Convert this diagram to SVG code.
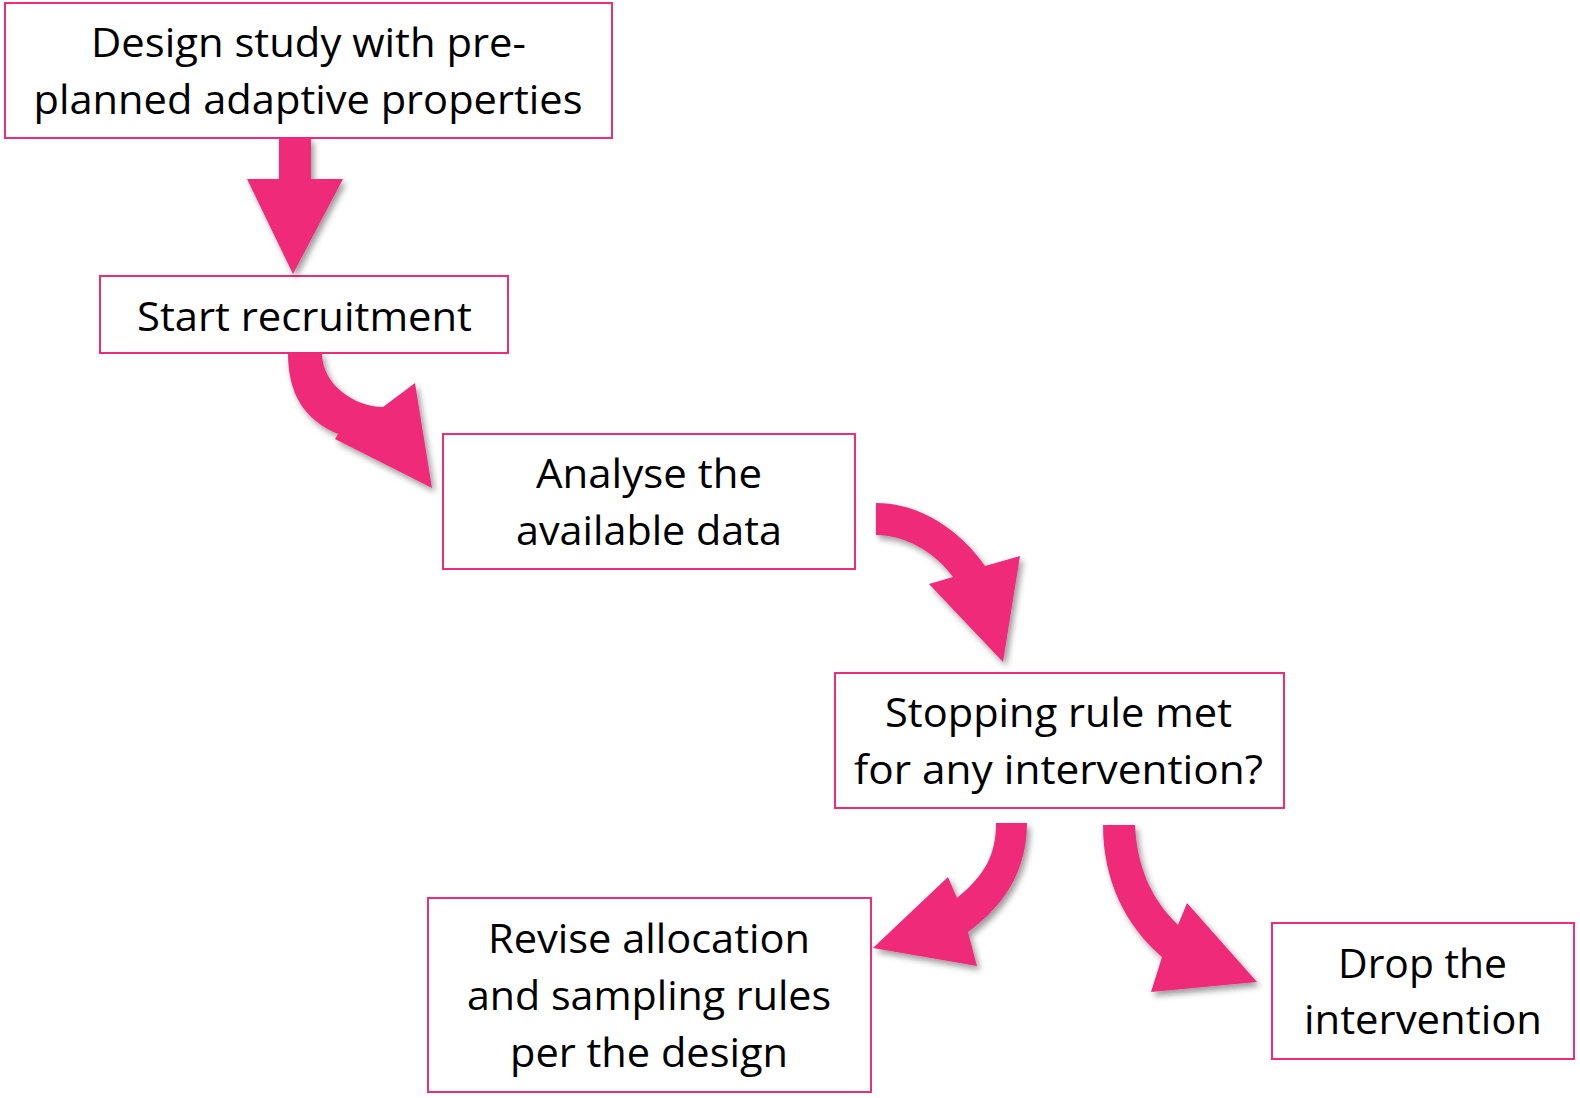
<svg xmlns="http://www.w3.org/2000/svg" width="1580" height="1098" viewBox="0 0 1580 1098">
<style>
.box{fill:#fff;stroke:#EE2C78;stroke-width:2}
.t{font-family:"Open Sans","Noto Sans","Liberation Sans",sans-serif;font-size:41px;fill:#000;text-anchor:middle}
.arr{fill:#EF2A78;filter:url(#sh)}
</style>
<defs>
<filter id="sh" x="-20%" y="-20%" width="150%" height="150%">
<feGaussianBlur in="SourceAlpha" stdDeviation="3"/>
<feOffset dx="3" dy="4" result="b"/>
<feFlood flood-color="#000" flood-opacity="0.4"/>
<feComposite in2="b" operator="in"/>
<feMerge><feMergeNode/><feMergeNode in="SourceGraphic"/></feMerge>
</filter>
</defs>
<rect width="1580" height="1098" fill="#fff"/>
<g id="n1"><rect class="box" x="5" y="3" width="607" height="135"/>
<text class="t" x="308.5" y="57" textLength="435" lengthAdjust="spacingAndGlyphs">Design study with pre-</text>
<text class="t" x="308" y="114" textLength="549" lengthAdjust="spacingAndGlyphs">planned adaptive properties</text></g>
<g id="n2"><rect class="box" x="100" y="276" width="408" height="77"/>
<text class="t" x="304.5" y="331" textLength="335" lengthAdjust="spacingAndGlyphs">Start recruitment</text></g>
<g id="n3"><rect class="box" x="443" y="434" width="412" height="135"/>
<text class="t" x="649" y="488" textLength="226" lengthAdjust="spacingAndGlyphs">Analyse the</text>
<text class="t" x="649" y="545" textLength="266" lengthAdjust="spacingAndGlyphs">available data</text></g>
<g id="n4"><rect class="box" x="835" y="673" width="449" height="135"/>
<text class="t" x="1058.5" y="727" textLength="347" lengthAdjust="spacingAndGlyphs">Stopping rule met</text>
<text class="t" x="1058.5" y="784" textLength="409" lengthAdjust="spacingAndGlyphs">for any intervention?</text></g>
<g id="n5"><rect class="box" x="428" y="898" width="443" height="194"/>
<text class="t" x="649" y="953" textLength="322" lengthAdjust="spacingAndGlyphs">Revise allocation</text>
<text class="t" x="649" y="1010" textLength="364" lengthAdjust="spacingAndGlyphs">and sampling rules</text>
<text class="t" x="649" y="1067" textLength="278" lengthAdjust="spacingAndGlyphs">per the design</text></g>
<g id="n6"><rect class="box" x="1272" y="923" width="302" height="136"/>
<text class="t" x="1422.5" y="978" textLength="169" lengthAdjust="spacingAndGlyphs">Drop the</text>
<text class="t" x="1423" y="1034" textLength="238" lengthAdjust="spacingAndGlyphs">intervention</text></g>
<g id="connectors">
<path class="arr" d="M279,138 L311,138 L311,179 L343,179 L293,274 L247,179 L279,179 Z"/>
<path class="arr" d="M288,353 C288,395 305,420 338,434 L335,439 L432,488 L415,383 L383,407 C355,407 322,385 322,353 Z"/>
<path class="arr" d="M876,503 C920,503 960,530 985,566 L1020,556 L1003,662 L929,584 L953,577 C935,552 905,535 876,535 Z"/>
<path class="arr" d="M996,823 L1027,823 C1027,870 1005,905 968,932 L977,966 L873,948 L948,877 L957,898 C985,875 996,855 996,823 Z"/>
<path class="arr" d="M1103,825 L1135,825 C1137,865 1150,898 1178,925 L1187,903 L1257,982 L1151,992 L1162,957 C1125,925 1103,880 1103,825 Z"/>
</g>
</svg>
